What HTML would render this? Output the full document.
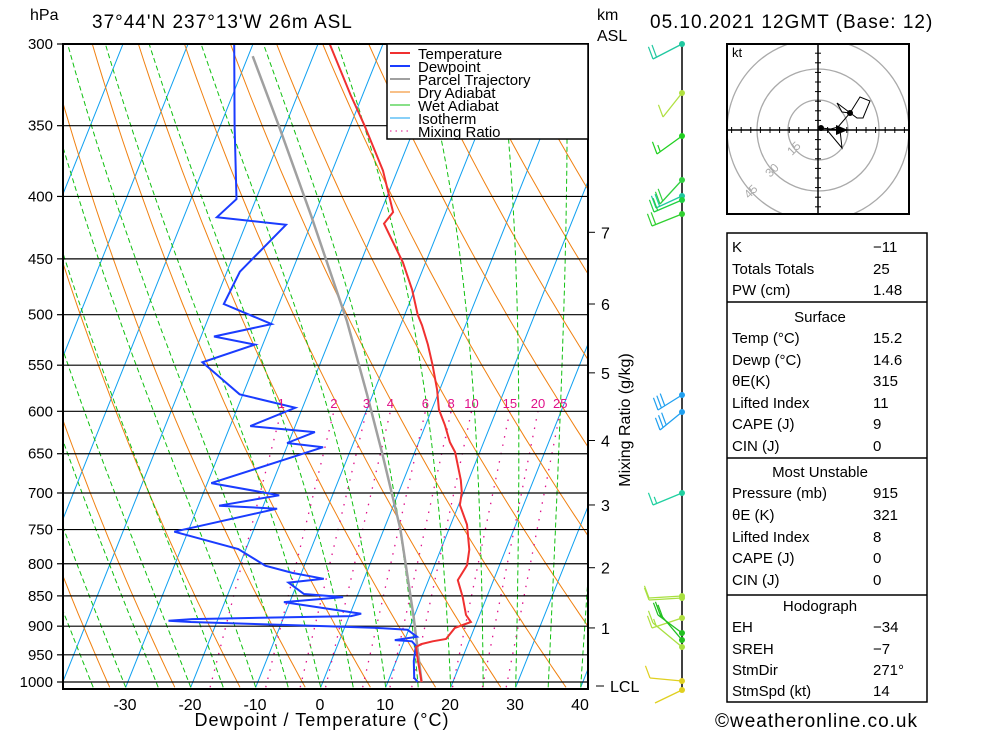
<!DOCTYPE html>
<html><head><meta charset="utf-8"><style>
body{margin:0;background:#fff;}
svg{display:block;font-family:"Liberation Sans",sans-serif;}
</style></head><body>
<svg id="chart" width="1000" height="733" viewBox="0 0 1000 733" xmlns="http://www.w3.org/2000/svg">
<defs><clipPath id="plotclip"><rect x="63" y="44" width="525" height="645"/></clipPath></defs>
<rect x="0" y="0" width="1000" height="733" fill="#fff"/>
<g id="bg" clip-path="url(#plotclip)"></g>
<g id="series" clip-path="url(#plotclip)"></g>
<g id="axes"></g>
<text x="30" y="20" font-size="16">hPa</text>
<text x="92" y="28" font-size="19" letter-spacing="1">37°44'N  237°13'W  26m  ASL</text>
<text x="597" y="20" font-size="16">km</text>
<text x="597" y="41" font-size="16">ASL</text>
<text x="650" y="28" font-size="19" letter-spacing="1">05.10.2021  12GMT  (Base: 12)</text>
<text x="322" y="726" font-size="18" text-anchor="middle" letter-spacing="1">Dewpoint / Temperature (°C)</text>
<text x="630" y="420" font-size="16" text-anchor="middle" transform="rotate(-90 630 420)">Mixing Ratio (g/kg)</text>
<text x="715" y="727" font-size="19" letter-spacing="1">©weatheronline.co.uk</text>
<g>
<rect x="387" y="44" width="201" height="95" fill="#fff" stroke="#000" stroke-width="1.5"/>
<line x1="390" y1="53" x2="410" y2="53" stroke="#f03030" stroke-width="2"/>
<text x="418" y="59" font-size="15">Temperature</text>
<line x1="390" y1="66" x2="410" y2="66" stroke="#1a3cff" stroke-width="2"/>
<text x="418" y="72" font-size="15">Dewpoint</text>
<line x1="390" y1="79" x2="410" y2="79" stroke="#a0a0a0" stroke-width="2"/>
<text x="418" y="85" font-size="15">Parcel Trajectory</text>
<line x1="390" y1="92" x2="410" y2="92" stroke="#f08010"/>
<text x="418" y="98" font-size="15">Dry Adiabat</text>
<line x1="390" y1="105" x2="410" y2="105" stroke="#10c010"/>
<text x="418" y="111" font-size="15">Wet Adiabat</text>
<line x1="390" y1="118" x2="410" y2="118" stroke="#10a0f0"/>
<text x="418" y="124" font-size="15">Isotherm</text>
<line x1="390" y1="131" x2="410" y2="131" stroke="#e0108a" stroke-dasharray="1.5,4"/>
<text x="418" y="137" font-size="15">Mixing Ratio</text>
</g>
<g id="winds"></g>
<g id="hodo"></g>
<g font-size="15">
<rect x="727" y="233" width="200" height="469" fill="none" stroke="#000" stroke-width="1.5"/>
<line x1="727" y1="302" x2="927" y2="302" stroke="#000" stroke-width="1.5"/>
<line x1="727" y1="458" x2="927" y2="458" stroke="#000" stroke-width="1.5"/>
<line x1="727" y1="595" x2="927" y2="595" stroke="#000" stroke-width="1.5"/>
<g id="rows"></g>
</g>
</svg>
<script>
// ---- data ----
const tempP = [300,330,350,381,412,421,434,453,477,500,510,529,550,576,598,616,636,648,683,699,716,743,779,802,825,852,881,893,903,922,926,931,936,960,1000];
const tempT = [-38.2,-31.9,-27.8,-22.2,-18.1,-18.8,-16.6,-13.5,-10.4,-8.0,-6.7,-4.6,-2.6,-0.4,1.1,3.0,4.8,6.2,8.8,9.7,10.2,12.5,14.4,15.0,14.5,16.3,17.9,19.1,17.0,16.3,14.4,12.8,12.2,13.3,15.2];
const dewP = [300,350,402,416,422,461,490,509,521,529,547,581,596,617,624,637,642,687,703,717,721,753,778,803,814,823,829,847,852,860,879,883,888,891,893,900,903,906,918,924,926,934,961,992,1000];
const dewT = [-52.9,-47.8,-43.0,-44.9,-33.8,-38.0,-38.5,-29.9,-38.0,-31.2,-38.2,-30.5,-21.1,-26.9,-16.6,-20.2,-14.4,-29.4,-18.2,-26.8,-17.7,-32.1,-21.2,-16.0,-11.4,-6.2,-11.4,-8.3,-2.1,-10.9,1.7,0.3,-24.0,-27.5,-24.0,-2.7,5.0,9.8,11.7,8.5,11.2,12.1,12.7,13.8,14.6];
const parcelP = [307,350,414,506,581,650,749,885,1000];
const parcelT = [-49.3,-41.0,-30.6,-18.5,-10.9,-4.9,2.5,10.0,15.2];
const pressureTicks = [300,350,400,450,500,550,600,650,700,750,800,850,900,950,1000];
const tempTicks = [-30,-20,-10,0,10,20,30,40];
const mixRatios = [1,2,3,4,6,8,10,15,20,25];
const kmLabels = [1,2,3,4,5,6,7];
const kmPress = [903,806,716,634,558,490,428];
const tableRows = [["K","\u221211",246,0],["Totals Totals","25",268,0],["PW (cm)","1.48",289,0],["Surface","",316,1],["Temp (°C)","15.2",337,0],["Dewp (°C)","14.6",359,0],["θE(K)","315",380,0],["Lifted Index","11",402,0],["CAPE (J)","9",423,0],["CIN (J)","0",445,0],["Most Unstable","",471,1],["Pressure (mb)","915",492,0],["θE (K)","321",514,0],["Lifted Index","8",536,0],["CAPE (J)","0",557,0],["CIN (J)","0",579,0],["Hodograph","",605,1],["EH","\u221234",626,0],["SREH","\u22127",648,0],["StmDir","271°",669,0],["StmSpd (kt)","14",690,0]];

// ---- scales ----
const NS="http://www.w3.org/2000/svg";
function yOf(p){return 44+638*Math.log(p/300)/Math.log(1000/300);}
function xOf(T,p){return 320+6.5*T+0.4*(689-yOf(p));}
function mk(tag,attrs,parent){const e=document.createElementNS(NS,tag);for(const k in attrs)e.setAttribute(k,attrs[k]);parent.appendChild(e);return e;}
const bg=document.getElementById('bg'),series=document.getElementById('series'),axes=document.getElementById('axes');
function pts(ps,ts){return ps.map((p,i)=>xOf(ts[i],p).toFixed(1)+','+yOf(p).toFixed(1)).join(' ');}

for(let T=-120;T<=50;T+=10){
  const l=mk('line',{x1:xOf(T,1010),y1:yOf(1010),x2:xOf(T,290),y2:yOf(290),stroke:'#10a0f0','stroke-width':1},bg);
  
  
}
for(let th=220;th<=480;th+=10){
  const ps=[],ts=[];
  for(let p=1010;p>=290;p-=10){ps.push(p);ts.push(th*Math.pow(p/1000,0.286)-273.15);}
  const l=mk('polyline',{points:pts(ps,ts),fill:'none',stroke:'#f08010','stroke-width':1},bg);
  
  
}
function dTdp(T,p){const es=6.112*Math.exp(17.67*(T-273.15)/(T-29.65));const rs=0.622*es/(p-es);
  return (287*T+2.5e6*rs)/(p*(1004+2.5e6*2.5e6*rs*0.622/(287*T*T)));}
for(let T0=-35;T0<=45;T0+=5){
  let T=T0+273.15;const ps=[1010],ts=[T0];
  for(let p=1010;p>290;p-=5){T-=5*dTdp(T,p);ps.push(p-5);ts.push(T-273.15);}
  const l=mk('polyline',{points:pts(ps,ts),fill:'none',stroke:'#10c010','stroke-width':1,'stroke-dasharray':'5,3'},bg);
  
  
}
function tdOf(w,p){const e=w*p/(622+w);const a=Math.log(e/6.112);return 243.5*a/(17.67-a);}
mixRatios.forEach(w=>{
  const l=mk('line',{x1:xOf(tdOf(w,1010),1010),y1:yOf(1010),x2:xOf(tdOf(w,600),600),y2:yOf(600),stroke:'#e0108a','stroke-width':1.3,'stroke-dasharray':'1.5,7'},bg);
  
  
  const t=mk('text',{x:xOf(tdOf(w,600),600),y:408,'font-size':13,fill:'#e0108a','text-anchor':'middle'},axes);
  t.textContent=w;
  
  
});
pressureTicks.forEach(p=>{
  const y=yOf(p);
  const l=mk('line',{x1:63,y1:y,x2:588,y2:y,stroke:'#000','stroke-width':1.2},series);
  
  
  const tk=mk('line',{x1:57,y1:y,x2:63,y2:y,stroke:'#000','stroke-width':1.2},axes);
  
  
  const t=mk('text',{x:53,y:y+5,'font-size':15,'text-anchor':'end'},axes);
  t.textContent=p;
  
  
});
const parcel=mk('polyline',{points:pts(parcelP,parcelT),fill:'none',stroke:'#a0a0a0','stroke-width':2.5},series);


const dew=mk('polyline',{points:pts(dewP,dewT),fill:'none',stroke:'#1a3cff','stroke-width':2},series);


const temp=mk('polyline',{points:pts(tempP,tempT),fill:'none',stroke:'#f03030','stroke-width':2},series);


const fr=mk('rect',{x:63,y:44,width:525,height:645,fill:'none',stroke:'#000','stroke-width':2},axes);


tempTicks.forEach(T=>{
  const x=320+6.5*T;
  const t=mk('text',{x:x,y:710,'font-size':16,'text-anchor':'middle'},axes);
  t.textContent=T;
  
  
});
kmLabels.forEach((k,i)=>{
  const y=yOf(kmPress[i]);
  const tk=mk('line',{x1:588,y1:y,x2:595,y2:y,stroke:'#000'},axes);
  
  
  const t=mk('text',{x:601,y:y+6,'font-size':16},axes);
  t.textContent=k;
  
  
});
const lt=mk('line',{x1:596,y1:686,x2:604,y2:686,stroke:'#000'},axes);


const lcl=mk('text',{x:610,y:692,'font-size':16},axes);
lcl.textContent='LCL';



// wind barbs
const winds=document.getElementById('winds');
const wl=mk('line',{x1:682,y1:44,x2:682,y2:690,stroke:'#000','stroke-width':1.5},winds);


const barbY=[44,93,136,180,196,200,214,395,412,493,596,598,618,633,640,647,681,690];
const barbEnd=[[653,59],[663,117],[657,154],[660,204],[656,208],[654,212],[652,226],[658,410],[660,430],[653,505],[649,598],[649,600],[652,628],[658,615],[660,614],[653,623],[650,678],[655,703]];
const barbF=[2,1,1.5,2,2,2,2,3,3,1.5,1,1,1,2,2,1.5,1,0];
const barbC=['#20c8a0','#b0e040','#20d020','#30d040','#20c8a0','#20d040','#30d030','#20a0f0','#20a0f0','#20d0a0','#a8e040','#a8e040','#b0e040','#20c020','#20c020','#a8e040','#e0d020','#e0d020'];
barbY.forEach((y,i)=>{
  const [ex,ey]=barbEnd[i];const c=barbC[i];
  const s=mk('line',{x1:682,y1:y,x2:ex,y2:ey,stroke:c,'stroke-width':1.3},winds);
  
  
  const dx=682-ex,dy=y-ey,L=Math.hypot(dx,dy),ux=dx/L,uy=dy/L;
  const n=Math.ceil(barbF[i]);
  for(let f=0;f<n;f++){
    const bx=ex+ux*f*4,by=ey+uy*f*4;const len=(f==n-1&&barbF[i]%1)?7:13;
    const fl=mk('line',{x1:bx,y1:by,x2:bx-0.35*len,y2:by-0.94*len,stroke:c,'stroke-width':1.2},winds);
    
    
  }
  const d=mk('circle',{cx:682,cy:y,r:3,fill:c},winds);
  
  
});

// hodograph
const hodo=document.getElementById('hodo');
const cx=818,cy=130;
const hb=mk('rect',{x:727,y:44,width:182,height:170,fill:'#fff',stroke:'#000','stroke-width':2},hodo);


const hg=mk('g',{'clip-path':'url(#hclip)'},hodo);
const hc=mk('clipPath',{id:'hclip'},document.querySelector('defs'));
mk('rect',{x:728,y:45,width:180,height:168},hc);
[[15,30],[30,61],[45,91]].forEach(([v,r])=>{
  const c=mk('circle',{cx:cx,cy:cy,r:r,fill:'none',stroke:'#aaa','stroke-width':1.3},hg);
  
  
  const a=Math.PI*0.75;const tx=cx+Math.cos(a)*r,ty=cy+Math.sin(a)*r;
  const t=mk('text',{x:tx,y:ty,'font-size':12,fill:'#aaa','text-anchor':'middle',transform:`rotate(-45 ${tx} ${ty})`},hg);
  t.textContent=v;
  
  
});
const ax1=mk('line',{x1:727,y1:cy,x2:909,y2:cy,stroke:'#000','stroke-width':1.5},hg);


const ax2=mk('line',{x1:cx,y1:44,x2:cx,y2:214,stroke:'#000','stroke-width':1.5},hg);


for(let k=-9;k<=9;k++){ if(!k)continue;
  const t1=mk('line',{x1:cx+k*9.6,y1:cy-3,x2:cx+k*9.6,y2:cy+3,stroke:'#000'},hg);
  
  
  const t2=mk('line',{x1:cx-3,y1:cy+k*9.6,x2:cx+3,y2:cy+k*9.6,stroke:'#000'},hg);
  
  
}
const kt=mk('text',{x:732,y:57,'font-size':13},hodo);
kt.textContent='kt';


const hp=mk('polyline',{points:'821,128 840,130 842,148 827,130 838,127 850,113 860,97 870,101 863,118 857,118 837,103 842,112 850,113',fill:'none',stroke:'#000','stroke-width':1},hodo);


const ha=mk('polygon',{points:'836,125 848,130 836,135',fill:'#000'},hodo);


[[850,113],[821,128]].forEach(([x,y])=>{
  const d=mk('circle',{cx:x,cy:y,r:3,fill:'#000'},hodo);
  
  
});

// table
const rows=document.getElementById('rows');
tableRows.forEach(([a,b,y,h])=>{
  const t=mk('text',{x:h?820:732,y:y+6,'text-anchor':h?'middle':'start','font-size':15},rows);
  t.textContent=a;
  
  
  if(b){
    const v=mk('text',{x:873,y:y+6,'font-size':15},rows);
    v.textContent=b;
    
    
  }
});
</script>
</body></html>
